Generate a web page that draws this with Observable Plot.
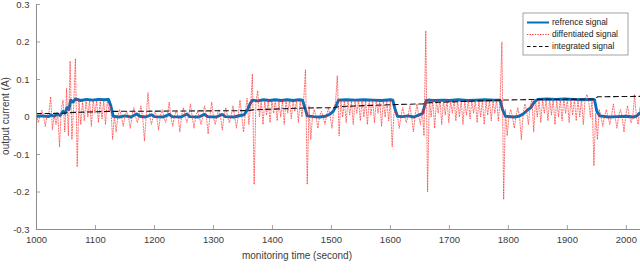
<!DOCTYPE html>
<html>
<head>
<meta charset="utf-8">
<script src="https://cdn.jsdelivr.net/npm/d3@7"></script>
<script src="https://cdn.jsdelivr.net/npm/@observablehq/plot@0.6"></script>
<style>
  html, body { margin: 0; padding: 0; background: #fff; }
  #chart svg { display: block; }
</style>
</head>
<body>
<div id="chart"></div>
<script>
// ---- data ----
const xTicks = [1000, 1100, 1200, 1300, 1400, 1500, 1600, 1700, 1800, 1900, 2000];
const yTicks = [-0.3, -0.2, -0.1, 0, 0.1, 0.2, 0.3];
const seriesNames = ["refrence signal", "diffentiated signal", "integrated signal"];

// reference signal: [time, current]
const refSignal = [
  [1000,0.002],[1010,0.003],[1020,0.001],[1025,0.005],[1030,0.002],[1035,0.008],[1040,0.004],
  [1045,0.015],[1048,0.010],[1052,0.025],[1055,0.020],[1058,0.045],[1062,0.040],[1066,0.048],
  [1075,0.044],[1085,0.047],[1095,0.045],[1105,0.047],[1115,0.046],[1122,0.047],[1126,0.030],
  [1130,0.002],[1140,0.000],[1150,0.003],[1160,0.000],[1170,0.008],[1175,0.002],[1185,0.000],
  [1195,0.006],[1200,0.001],[1215,0.000],[1225,0.007],[1230,0.001],[1245,0.000],[1255,0.008],
  [1260,0.001],[1275,0.000],[1285,0.007],[1290,0.001],[1305,0.000],[1315,0.007],[1320,0.001],
  [1335,0.000],[1345,0.004],[1352,0.006],[1358,0.020],[1362,0.035],[1366,0.045],[1375,0.043],
  [1385,0.046],[1395,0.044],[1405,0.046],[1415,0.044],[1425,0.046],[1435,0.044],[1445,0.046],
  [1451,0.045],[1455,0.025],[1459,0.003],[1470,0.001],[1480,0.000],[1490,0.002],[1498,0.008],
  [1503,0.015],[1508,0.030],[1512,0.045],[1525,0.046],[1540,0.045],[1555,0.046],[1570,0.045],
  [1585,0.044],[1600,0.046],[1604,0.045],[1608,0.020],[1612,0.002],[1620,0.001],[1630,0.003],
  [1640,0.000],[1648,0.005],[1655,0.010],[1658,0.030],[1661,0.045],[1675,0.044],[1690,0.045],
  [1700,0.044],[1715,0.046],[1730,0.044],[1745,0.045],[1760,0.046],[1775,0.045],[1786,0.045],
  [1790,0.020],[1795,0.002],[1810,0.000],[1818,0.002],[1825,0.008],[1832,0.018],[1838,0.025],
  [1844,0.040],[1850,0.047],[1865,0.048],[1880,0.047],[1895,0.048],[1910,0.047],[1925,0.046],
  [1940,0.047],[1946,0.046],[1950,0.015],[1955,0.003],[1970,0.000],[1985,0.001],[2000,0.002],
  [2012,0.000],[2018,0.003],[2022,0.010],[2025,0.012]
];

// differentiated signal, sampled every 3 s from 1000 s
const diffStart = 1000, diffStep = 3;
const diffValues = [
  0.003,-0.015,0.004,0.018,0.002,-0.025,0.005,0.010,0.054,-0.034,
  0.006,-0.020,0.010,-0.080,0.020,0.045,-0.040,0.076,-0.050,0.149,
  -0.060,0.030,0.156,-0.133,0.045,-0.020,0.042,-0.010,0.045,0.000,
  0.044,-0.025,0.046,0.010,0.043,-0.015,0.045,-0.005,0.044,-0.020,
  0.046,0.015,0.030,-0.060,0.005,-0.040,0.003,0.020,0.002,-0.025,
  0.004,0.015,0.000,-0.030,0.003,0.025,0.001,-0.015,0.002,0.030,
  0.000,-0.064,0.003,0.065,0.001,-0.020,0.004,0.015,0.000,-0.035,
  0.003,0.020,0.001,-0.015,0.004,0.040,0.000,-0.025,0.003,0.018,
  0.001,-0.040,0.003,0.025,0.000,-0.015,0.004,0.035,0.001,-0.030,
  0.003,0.015,0.000,-0.020,0.004,0.030,0.001,-0.045,0.003,0.040,
  0.000,-0.020,0.003,0.020,0.001,-0.035,0.004,0.025,0.000,-0.015,
  0.003,0.030,0.001,-0.030,0.005,0.045,0.002,-0.040,0.010,0.050,
  -0.020,0.030,0.115,-0.180,0.040,0.070,0.000,0.045,-0.020,0.043,
  0.005,0.045,-0.015,0.044,0.010,0.046,-0.010,0.043,0.000,0.045,
  -0.020,0.044,0.010,0.046,-0.005,0.043,0.015,0.045,-0.015,0.044,
  0.000,0.045,0.126,-0.180,0.030,-0.060,0.004,0.020,0.000,-0.030,
  0.003,0.015,0.001,-0.020,0.004,0.025,0.000,-0.030,0.020,0.040,
  0.110,-0.050,0.045,0.000,0.044,-0.015,0.046,0.005,0.043,-0.020,
  0.045,0.010,0.044,-0.010,0.046,0.000,0.043,-0.020,0.045,0.005,
  0.044,-0.015,0.046,0.010,0.043,-0.025,0.045,0.000,0.044,-0.010,
  0.045,-0.080,0.010,0.020,0.002,-0.030,0.004,0.025,0.001,-0.015,
  0.003,0.030,0.000,-0.040,0.004,0.035,0.001,-0.020,0.020,-0.050,
  0.230,-0.200,0.050,0.000,0.045,-0.030,0.044,0.010,0.046,-0.020,
  0.044,0.005,0.045,-0.015,0.043,0.010,0.046,-0.010,0.044,0.000,
  0.045,-0.020,0.044,0.005,0.046,-0.005,0.043,0.010,0.045,-0.015,
  0.044,0.000,0.046,-0.020,0.043,0.005,0.045,-0.010,0.044,0.010,
  0.046,-0.010,0.044,0.200,-0.220,0.020,-0.050,0.004,0.020,0.001,
  -0.030,0.003,0.025,0.000,-0.060,0.010,0.035,0.015,-0.020,0.030,
  0.045,-0.040,0.047,0.000,0.048,-0.015,0.046,0.010,0.048,-0.010,
  0.047,0.005,0.048,-0.020,0.046,0.000,0.048,-0.010,0.047,0.010,
  0.048,-0.015,0.046,0.005,0.048,-0.010,0.047,0.000,0.048,-0.020,
  0.046,0.060,0.047,0.000,0.048,-0.130,0.010,-0.060,0.020,0.003,
  -0.025,0.002,0.020,0.000,-0.020,0.004,0.035,0.001,-0.030,0.003,
  0.020,0.000,-0.040,0.004,0.030,0.001,-0.015,0.003,0.060,0.000,
  -0.020,0.025,0.010
];

// integrated signal: [time, current]
const intSignal = [
  [1000,0.009],[1045,0.010],[1060,0.012],[1125,0.015],[1360,0.017],[1366,0.019],
  [1455,0.024],[1505,0.025],[1515,0.028],[1605,0.033],[1655,0.035],[1665,0.038],
  [1785,0.045],[1820,0.046],[1850,0.047],[1945,0.048],[1952,0.054],[2025,0.055]
];

// ---- build tables ----
const ref = refSignal.map(([t, v]) => ({t, v}));
const diff = diffValues.map((v, i) => ({t: diffStart + i * diffStep, v}));
const integ = intSignal.map(([t, v]) => ({t, v}));

const axisColor = "#8c8c8c";
const textColor = "#3c3c3c";
const blue = "#0072BD";
const red = "#ff2020";

const W = 640, H = 278;
const mL = 36, mR = 0, mT = 4, mB = 49;

const chart = Plot.plot({
  width: W, height: H,
  marginLeft: mL, marginRight: mR, marginTop: mT, marginBottom: mB,
  style: {fontFamily: "'Liberation Sans', Arial, sans-serif", fontSize: "9.5px", color: textColor, background: "#fff", overflow: "visible"},
  x: {domain: [1000, 2024]},
  y: {domain: [-0.3, 0.3]},
  marks: [
    Plot.axisX(xTicks, {tickSize: 0, tickPadding: 7, label: null, fill: textColor, tickFormat: d => String(d)}),
    Plot.axisY(yTicks, {tickSize: 0, tickPadding: 7, label: null, fill: textColor,
      tickFormat: d => d === 0 ? "0" : String(+d.toFixed(1))}),
    Plot.tickX(xTicks, {x: d => d, insetTop: H - mT - mB - 4, stroke: axisColor, strokeWidth: 0.8}),
    Plot.tickY(yTicks, {y: d => d, insetRight: W - mL - mR - 4, stroke: axisColor, strokeWidth: 0.8}),
    Plot.line(ref, {x: "t", y: "v", stroke: blue, strokeWidth: 2.9, clip: true}),
    Plot.line(diff, {x: "t", y: "v", stroke: red, strokeWidth: 0.9, strokeDasharray: "1.2,1.5", strokeOpacity: 0.7, clip: true}),
    Plot.line(integ, {x: "t", y: "v", stroke: "#111", strokeWidth: 1.1, strokeDasharray: "5,3.5", clip: true}),
    Plot.ruleX([1000], {stroke: axisColor, strokeWidth: 1}),
    Plot.ruleY([-0.3], {stroke: axisColor, strokeWidth: 1})
  ]
});

document.getElementById("chart").appendChild(chart);

// axis labels and in-plot legend
const svg = d3.select(chart);
svg.append("text")
  .attr("x", 297).attr("y", 259)
  .attr("text-anchor", "middle")
  .attr("font-size", "10px").attr("fill", textColor)
  .text("monitoring time (second)");
svg.append("text")
  .attr("transform", "translate(9,116) rotate(-90)")
  .attr("text-anchor", "middle")
  .attr("font-size", "10px").attr("fill", textColor)
  .text("output current (A)");

const lg = svg.append("g").attr("transform", "translate(523,13)");
lg.append("rect").attr("x", 0).attr("y", 0).attr("width", 105).attr("height", 42)
  .attr("fill", "#fff").attr("stroke", axisColor).attr("stroke-width", 0.8);
const legendStyles = [
  {stroke: blue, width: 2, dash: null},
  {stroke: red, width: 0.9, dash: "1.3,1.3"},
  {stroke: "#111", width: 1.1, dash: "3.5,2.5"}
];
seriesNames.forEach((name, i) => {
  const y = 9.5 + i * 12;
  const s = legendStyles[i];
  const ln = lg.append("line").attr("x1", 4).attr("x2", 26).attr("y1", y).attr("y2", y)
    .attr("stroke", s.stroke).attr("stroke-width", s.width);
  if (s.dash) ln.attr("stroke-dasharray", s.dash);
  lg.append("text").attr("x", 29).attr("y", y).attr("dy", "0.35em")
    .attr("text-anchor", "start")
    .attr("font-size", "8.5px").attr("fill", "#222").text(name);
});
</script>
</body>
</html>
